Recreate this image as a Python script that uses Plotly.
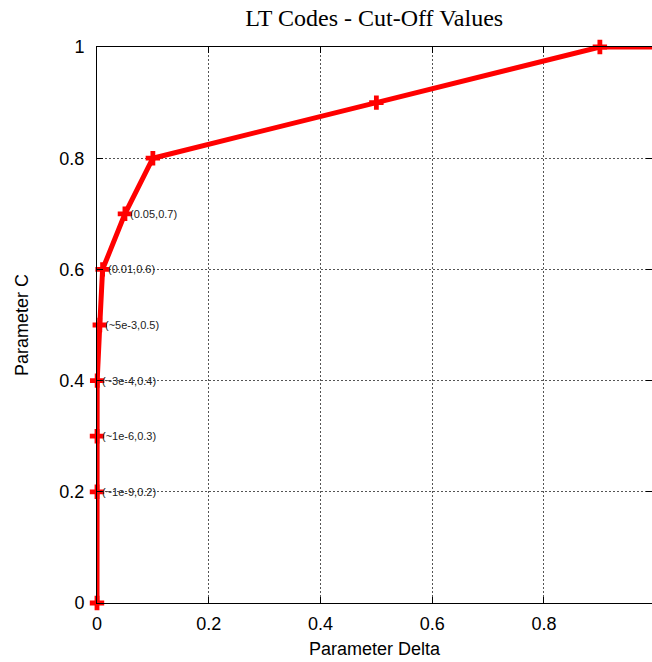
import plotly.graph_objects as go

delta = [0.0, 1e-9, 1e-6, 3e-4, 5e-3, 0.01, 0.05, 0.1, 0.5, 0.9, 1.0]
param_c = [0.0, 0.2, 0.3, 0.4, 0.5, 0.6, 0.7, 0.8, 0.9, 1.0, 1.0]

label_x = [1e-9, 1e-6, 3e-4, 5e-3, 0.01, 0.05]
label_y = [0.2, 0.3, 0.4, 0.5, 0.6, 0.7]
label_text = ["(~1e-9,0.2)", "(~1e-6,0.3)", "(~3e-4,0.4)", "(~5e-3,0.5)", "(0.01,0.6)", "(0.05,0.7)"]

x_ticks = [0, 0.2, 0.4, 0.6, 0.8]
y_ticks = [0, 0.2, 0.4, 0.6, 0.8, 1.0]

fig = go.Figure()
fig.add_trace(
    go.Scatter(
        x=delta,
        y=param_c,
        mode="lines+markers",
        line=dict(color="#ff0000", width=5),
        marker=dict(symbol="cross", size=12, color="#ff0000"),
        cliponaxis=False,
        showlegend=False,
    )
)

# point labels, gnuplot style
for lx, ly, txt in zip(label_x, label_y, label_text):
    fig.add_annotation(
        x=lx, y=ly, text=txt, showarrow=False,
        xanchor="left", yanchor="middle", xshift=3,
        font=dict(family="Liberation Sans, Arial, sans-serif", size=11, color="#222"),
    )

axis_common = dict(
    showline=True,
    linecolor="black",
    linewidth=1,
    mirror="ticks",
    ticks="inside",
    ticklen=6,
    tickcolor="black",
    showgrid=True,
    gridcolor="#555",
    griddash="2px,2px",
    gridwidth=1,
    zeroline=False,
    tickfont=dict(size=18, color="black"),
)

fig.update_xaxes(
    range=[0, 0.9933],
    tickvals=x_ticks,
    ticktext=["0", "0.2", "0.4", "0.6", "0.8"],
    ticklabelstandoff=4,
    title=dict(text="Parameter Delta", font=dict(size=18, color="black"), standoff=9),
    **axis_common,
)
fig.update_yaxes(
    range=[0, 1],
    tickvals=y_ticks,
    ticktext=["0", "0.2", "0.4", "0.6", "0.8", "1"],
    ticklabelstandoff=8,
    title=dict(text="Parameter C", font=dict(size=18, color="black"), standoff=26),
    **axis_common,
)

fig.update_layout(
    width=652,
    height=662,
    margin=dict(l=97, r=0, t=47, b=59),
    paper_bgcolor="white",
    plot_bgcolor="white",
    font=dict(family="Liberation Sans, Arial, sans-serif", color="black"),
    title=dict(
        text="LT Codes - Cut-Off Values",
        x=0.574,
        xanchor="center",
        y=0.973,
        yanchor="middle",
        font=dict(family="Liberation Serif, Times New Roman, serif", size=24, color="black"),
    ),
)

# drop the default 8px body margin so the page fits the window exactly
fig.write_html(
    "out.html",
    config={"displayModeBar": False},
    post_script="document.body.style.margin = '0';",
)
